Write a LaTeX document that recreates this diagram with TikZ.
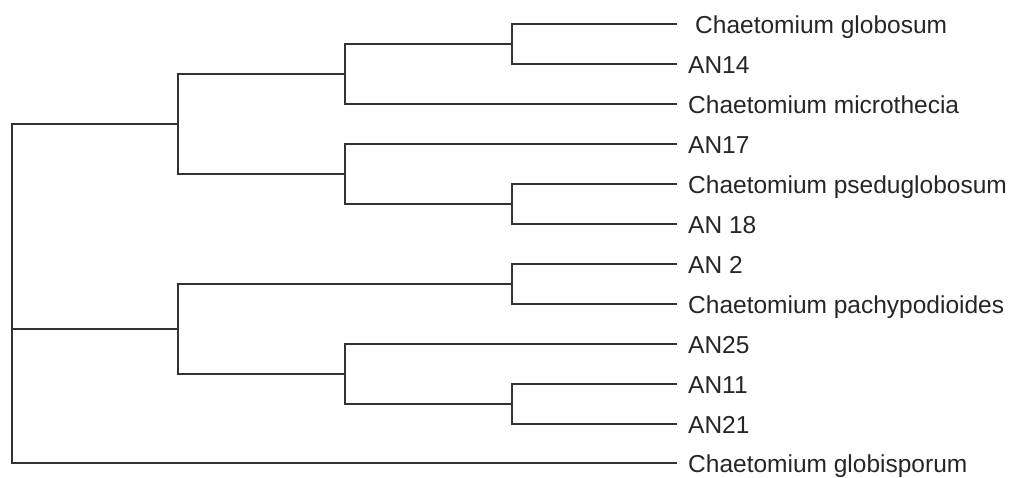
\documentclass[tikz,border=0pt]{standalone}
\usepackage{fontspec}
\setmainfont{Liberation Sans}
\begin{document}
\begin{tikzpicture}[x=1pt,y=-1pt,
  branch/.style={draw=black!80, line width=2pt, line join=miter},
  leaflabel/.style={anchor=base west, inner sep=0pt, font=\fontsize{24.5}{28}\selectfont, text=black!85}]
\useasboundingbox (0,0) rectangle (1010,477);
% leaf ends
\coordinate (l1) at (677,24);
\coordinate (l2) at (677,64);
\coordinate (l3) at (677,104);
\coordinate (l4) at (677,144);
\coordinate (l5) at (677,184);
\coordinate (l6) at (677,224);
\coordinate (l7) at (677,264);
\coordinate (l8) at (677,304);
\coordinate (l9) at (677,344);
\coordinate (l10) at (677,384);
\coordinate (l11) at (677,424);
\coordinate (l12) at (677,463);
% internal nodes
\coordinate (n1) at (512,44);
\coordinate (n2) at (345,74);
\coordinate (n3) at (512,204);
\coordinate (n4) at (345,174);
\coordinate (n5) at (178,124);
\coordinate (n6) at (512,284);
\coordinate (n7) at (512,404);
\coordinate (n8) at (345,374);
\coordinate (n9) at (178,329);
\coordinate (root) at (12,294);
% labels
\node[leaflabel] (t1) at (695,33) {Chaetomium globosum};
\node[leaflabel] (t2) at (688,73) {AN14};
\node[leaflabel] (t3) at (688,113) {Chaetomium microthecia};
\node[leaflabel] (t4) at (688,153) {AN17};
\node[leaflabel] (t5) at (688,193) {Chaetomium pseduglobosum};
\node[leaflabel] (t6) at (688,233) {AN 18};
\node[leaflabel] (t7) at (688,273) {AN 2};
\node[leaflabel] (t8) at (688,313) {Chaetomium pachypodioides};
\node[leaflabel] (t9) at (688,353) {AN25};
\node[leaflabel] (t10) at (688,393) {AN11};
\node[leaflabel] (t11) at (688,433) {AN21};
\node[leaflabel] (t12) at (688,472) {Chaetomium globisporum};
% branches
\draw[branch] (l1) -- (n1 |- l1) -- (n1 |- l2) -- (l2);
\draw[branch] (n1) -- (n2 |- n1) -- (n2 |- l3) -- (l3);
\draw[branch] (l5) -- (n3 |- l5) -- (n3 |- l6) -- (l6);
\draw[branch] (l4) -- (n4 |- l4) -- (n4 |- n3) -- (n3);
\draw[branch] (n2) -- (n5 |- n2) -- (n5 |- n4) -- (n4);
\draw[branch] (l7) -- (n6 |- l7) -- (n6 |- l8) -- (l8);
\draw[branch] (l10) -- (n7 |- l10) -- (n7 |- l11) -- (l11);
\draw[branch] (l9) -- (n8 |- l9) -- (n8 |- n7) -- (n7);
\draw[branch] (n6) -- (n9 |- n6) -- (n9 |- n8) -- (n8);
\draw[branch] (n5) -- (root |- n5) -- (root |- l12) -- (l12);
\draw[branch] (n9) -- (root |- n9);
\end{tikzpicture}
\end{document}
